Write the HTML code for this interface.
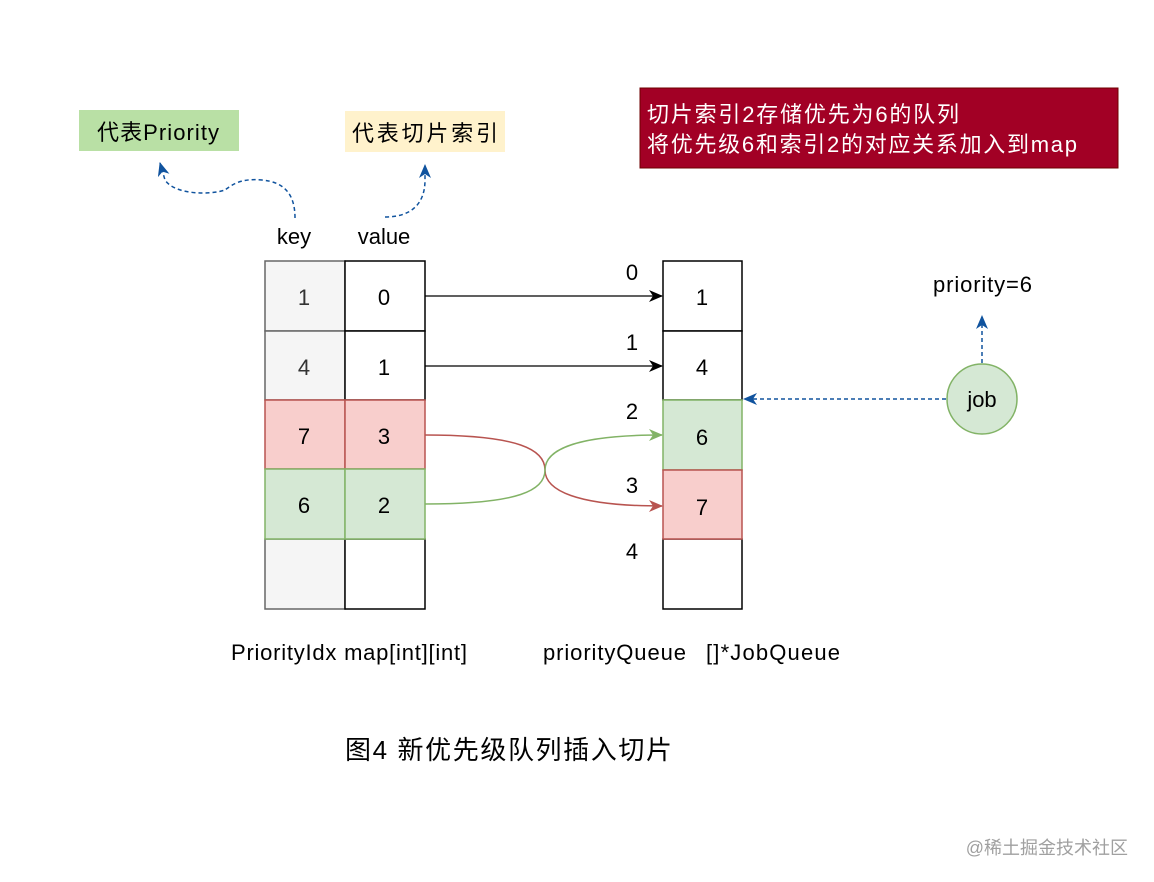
<!DOCTYPE html>
<html><head><meta charset="utf-8"><style>
body{margin:0;background:#fff;}
svg{display:block;font-family:"Liberation Sans","Noto Sans CJK SC",sans-serif;}
</style></head><body>
<svg width="1154" height="882" viewBox="0 0 1154 882">
<defs>
<marker id="ab" markerWidth="14" markerHeight="12" refX="13" refY="6" orient="auto" markerUnits="userSpaceOnUse"><path d="M0,0 L14,6 L0,12 L4,6z" fill="#000"/></marker>
<marker id="ar" markerWidth="14" markerHeight="12" refX="13" refY="6" orient="auto" markerUnits="userSpaceOnUse"><path d="M0,0 L14,6 L0,12 L4,6z" fill="#b85450"/></marker>
<marker id="ag" markerWidth="14" markerHeight="12" refX="13" refY="6" orient="auto" markerUnits="userSpaceOnUse"><path d="M0,0 L14,6 L0,12 L4,6z" fill="#82b366"/></marker>
<marker id="au" markerWidth="14" markerHeight="12" refX="13" refY="6" orient="auto" markerUnits="userSpaceOnUse"><path d="M0,0 L14,6 L0,12 L4,6z" fill="#10539e"/></marker>
</defs>
<rect x="79" y="110" width="160" height="41" fill="#b9e0a5"/>
<text x="97" y="140" font-size="22" textLength="122">代表Priority</text>
<rect x="345" y="111" width="160" height="41" fill="#fff2cc"/>
<text x="352" y="141" font-size="22" textLength="146">代表切片索引</text>
<path d="M295 218 C295 195,285 182,262 180 C240 178,232 185,225 190 C210 195,175 195,165 180 L160 163" fill="none" stroke="#10539e" stroke-width="1.5" stroke-dasharray="4 3" marker-end="url(#au)"/>
<path d="M385 217 C410 217,425 205,425 180 L425 165" fill="none" stroke="#10539e" stroke-width="1.5" stroke-dasharray="4 3" marker-end="url(#au)"/>
<text x="294" y="244" font-size="22" text-anchor="middle">key</text>
<text x="384" y="244" font-size="22" text-anchor="middle">value</text>
<rect x="640" y="88" width="478" height="80" fill="#a20025" stroke="#6f0000"/>
<text x="647" y="122" font-size="22" fill="#fff" textLength="312">切片索引2存储优先为6的队列</text>
<text x="647" y="152" font-size="22" fill="#fff" textLength="430">将优先级6和索引2的对应关系加入到map</text>
<g stroke-width="1.5" font-size="22" text-anchor="middle">
<rect x="265" y="261" width="80" height="70" fill="#f5f5f5" stroke="#666"/>
<rect x="265" y="331" width="80" height="69" fill="#f5f5f5" stroke="#666"/>
<rect x="265" y="539" width="80" height="70" fill="#f5f5f5" stroke="#666"/>
<rect x="345" y="261" width="80" height="70" fill="#fff" stroke="#000"/>
<rect x="345" y="331" width="80" height="69" fill="#fff" stroke="#000"/>
<rect x="345" y="539" width="80" height="70" fill="#fff" stroke="#000"/>
<rect x="265" y="400" width="80" height="69" fill="#f8cecc" stroke="#b85450"/>
<rect x="345" y="400" width="80" height="69" fill="#f8cecc" stroke="#b85450"/>
<rect x="265" y="469" width="80" height="70" fill="#d5e8d4" stroke="#82b366"/>
<rect x="345" y="469" width="80" height="70" fill="#d5e8d4" stroke="#82b366"/>
<text x="304" y="305" fill="#333" stroke="none">1</text>
<text x="304" y="375" fill="#333" stroke="none">4</text>
<text x="304" y="444" stroke="none">7</text>
<text x="304" y="513" stroke="none">6</text>
<text x="384" y="305" stroke="none">0</text>
<text x="384" y="375" stroke="none">1</text>
<text x="384" y="444" stroke="none">3</text>
<text x="384" y="513" stroke="none">2</text>
<rect x="663" y="261" width="79" height="70" fill="#fff" stroke="#000"/>
<rect x="663" y="331" width="79" height="69" fill="#fff" stroke="#000"/>
<rect x="663" y="539" width="79" height="70" fill="#fff" stroke="#000"/>
<rect x="663" y="400" width="79" height="70" fill="#d5e8d4" stroke="#82b366"/>
<rect x="663" y="470" width="79" height="69" fill="#f8cecc" stroke="#b85450"/>
<text x="702" y="305" stroke="none">1</text>
<text x="702" y="375" stroke="none">4</text>
<text x="702" y="445" stroke="none">6</text>
<text x="702" y="515" stroke="none">7</text>
<text x="632" y="280" stroke="none">0</text>
<text x="632" y="350" stroke="none">1</text>
<text x="632" y="419" stroke="none">2</text>
<text x="632" y="493" stroke="none">3</text>
<text x="632" y="559" stroke="none">4</text>
</g>
<line x1="425" y1="296" x2="662" y2="296" stroke="#000" stroke-width="1.3" marker-end="url(#ab)"/>
<line x1="425" y1="366" x2="662" y2="366" stroke="#000" stroke-width="1.3" marker-end="url(#ab)"/>
<path d="M425 435 C520 435,545 450,545 470 C545 490,575 506,662 506" fill="none" stroke="#b85450" stroke-width="1.5" marker-end="url(#ar)"/>
<path d="M425 504 C520 504,545 490,545 470 C545 450,575 435,662 435" fill="none" stroke="#82b366" stroke-width="1.5" marker-end="url(#ag)"/>
<circle cx="982" cy="399" r="35" fill="#d5e8d4" stroke="#82b366" stroke-width="1.5"/>
<text x="982" y="407" font-size="22" text-anchor="middle">job</text>
<line x1="946" y1="399" x2="744" y2="399" stroke="#10539e" stroke-width="1.5" stroke-dasharray="4 3" marker-end="url(#au)"/>
<line x1="982" y1="363" x2="982" y2="316" stroke="#10539e" stroke-width="1.5" stroke-dasharray="4 3" marker-end="url(#au)"/>
<text x="933" y="292" font-size="22" textLength="99">priority=6</text>
<text x="231" y="660" font-size="22" textLength="236">PriorityIdx map[int][int]</text>
<text x="543" y="660" font-size="22" textLength="143">priorityQueue</text>
<text x="706" y="660" font-size="22" textLength="134">[]*JobQueue</text>
<text x="345" y="759" font-size="26" textLength="327">图4 新优先级队列插入切片</text>
<text x="1128" y="854" font-size="18" fill="#a0a0a0" text-anchor="end">@稀土掘金技术社区</text>
</svg>
</body></html>
